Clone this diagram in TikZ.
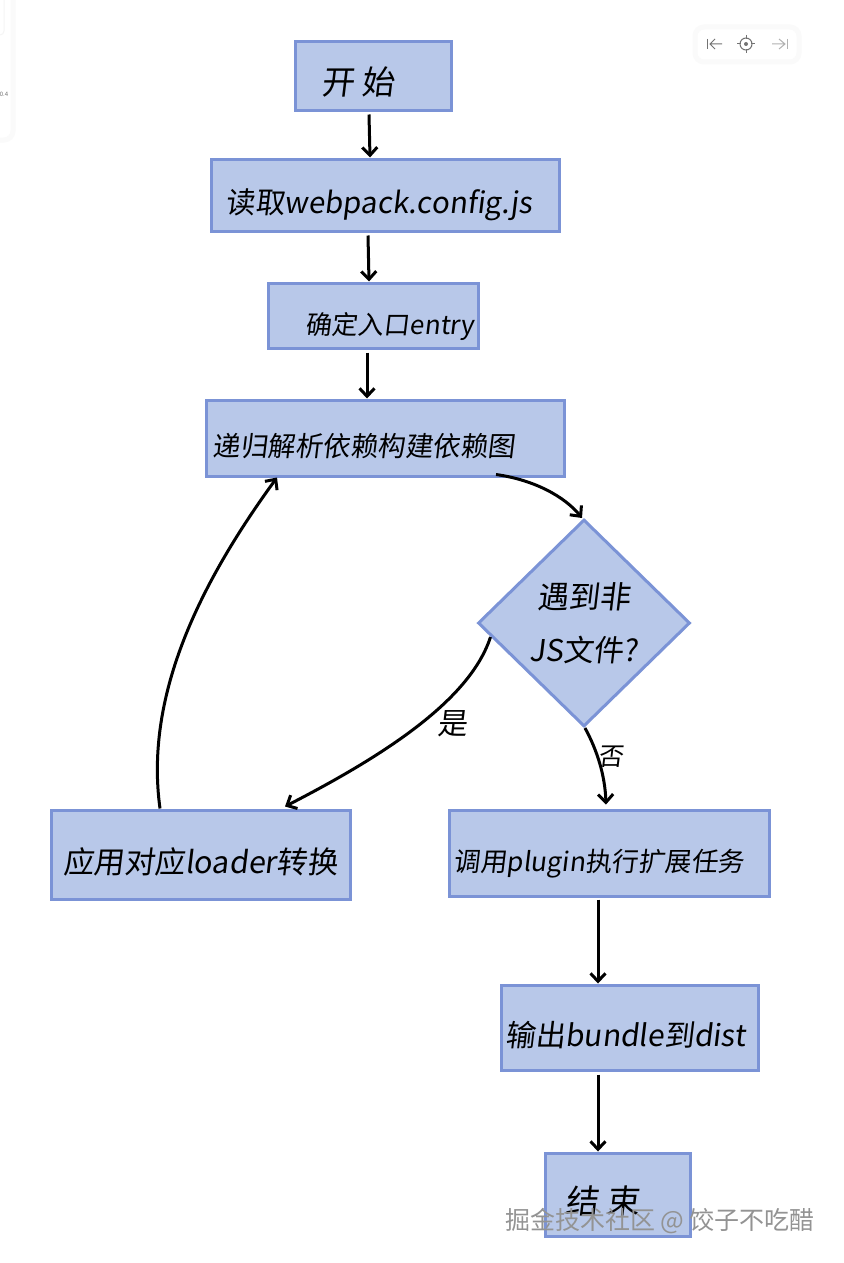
\documentclass[tikz,border=0pt]{standalone}
\usepackage{fontspec}
\setmainfont{Noto Sans CJK SC}[FakeSlant=0.12]
\newfontfamily\markfont{Noto Sans CJK SC}
\usetikzlibrary{arrows.meta,shapes.geometric}
\definecolor{boxfill}{HTML}{B8C8E9}
\definecolor{boxline}{HTML}{7B93D6}
\newcommand{\hw}[1]{\fontsize{#1}{#1}\selectfont}
\tikzset{
  basebox/.style={draw=boxline,fill=boxfill,line width=3pt,inner sep=0pt},
  procbox/.style={basebox,text height=37pt,text depth=0pt},
  decbox/.style={basebox,diamond,aspect=1,align=center},
  flow/.style={-{Straight Barb[length=8pt,width=15pt]},line width=3pt,black},
  panel/.style={draw=gray!4,line width=5pt,fill=white,rounded corners=9pt},
  icon/.style={line width=1pt,gray!90!black},
}
\begin{document}
\begin{tikzpicture}[x=1pt,y=-1pt]
\useasboundingbox (0,0) rectangle (843,1263);
\fill[white] (0,0) rectangle (843,1263);
\path[panel] (-20,-20) rectangle (13,140);
\draw[gray!8,line width=1pt,rounded corners=4pt] (-10,-10) rectangle (4,35);
\node[font=\fontsize{6}{6}\selectfont\markfont,text=gray!90!black,inner sep=0pt] (ver) at (4,94) {0.4};
\path[panel] (695,27) rectangle (799,62);
\draw[icon] (707,39) -- (707,49);
\draw[icon] (715,39) -- (710,44) -- (715,49) (710,44) -- (722,44);
\draw[icon] (746,44) circle (6);
\fill[gray!90!black] (746,44) circle (2);
\draw[icon] (746,35) -- (746,39) (746,49) -- (746,53) (737,44) -- (741,44) (751,44) -- (755,44);
\draw[icon,gray!60] (787,39) -- (787,49);
\draw[icon,gray!60] (779,39) -- (785,44) -- (779,49) (785,44) -- (772,44);
\node[procbox,minimum width=156pt,minimum height=68pt] (start) at (373,76) {\hw{33}\hspace*{-30pt}开\hspace{8pt}始};
\node[procbox,minimum width=348pt,minimum height=72pt] (read) at (385,195) {\hw{29.5}\hspace*{-12pt}读取webpack.config.js};
\node[procbox,minimum width=210pt,minimum height=65pt] (entry) at (373,315.5) {\hw{26}\hspace*{34pt}确定入口entry};
\node[procbox,minimum width=358pt,minimum height=76pt] (parse) at (385,438) {\hw{27.5}\hspace*{-42pt}递归解析依赖构建依赖图};
\node[decbox,minimum width=212pt,minimum height=207pt] (cond) at (584,623) {\hw{31}遇到非\\[24pt]\hw{30}JS文件?};
\node[procbox,minimum width=299pt,minimum height=89pt] (loader) at (200.5,854.5) {\hw{30.5}应用对应loader转换};
\node[procbox,minimum width=320pt,minimum height=86pt] (plugin) at (609,853) {\hw{26.5}\hspace*{-20pt}调用plugin执行扩展任务};
\node[procbox,minimum width=257pt,minimum height=85pt] (bundle) at (629.5,1027.5) {\hw{30}\hspace*{-8pt}输出bundle到dist};
\node[procbox,minimum width=145pt,minimum height=83pt] (stop) at (617.5,1194.5) {\hw{33}\hspace*{-30pt}结\hspace{8pt}束};
\draw[flow] ([shift={(-4,3)}]start.south) -- ([shift={(-3,0)}]read.north -| start.south);
\draw[flow] ([shift={(-17,3)}]read.south) -- ([shift={(-4,0)}]entry.north);
\draw[flow] ([shift={(-6,3)}]entry.south) -- ([shift={(-6,0)}]entry.south |- parse.north);
\draw[flow] ([shift={(111,-3)}]parse.south) .. controls (535,480) and (565,497) .. ([shift={(-2,0)}]cond.north);
\draw[flow] ([shift={(14,14)}]cond.west) .. controls (470,700) and (385,755) .. ([shift={(84.5,-2)}]loader.north);
\draw[flow] ([shift={(-40.5,0)}]loader.north) .. controls (145,700) and (195,590) .. ([shift={(-108,0)}]parse.south);
\draw[flow] ([shift={(1,0)}]cond.south) .. controls (597,750) and (605,775) .. ([shift={(-3,-4)}]plugin.north);
\draw[flow] ([shift={(-11,2)}]plugin.south) -- ([shift={(-31.5,0)}]bundle.north);
\draw[flow] ([shift={(-31.5,3)}]bundle.south) -- ([shift={(-19.5,0)}]stop.north);
\node[font=\hw{30},inner sep=0pt] (yes) at (452,724) {是};
\node[font=\hw{25},inner sep=0pt] (no) at (611,757) {否};
\node[font=\fontsize{25}{25}\selectfont\markfont,text=gray!85,inner sep=0pt] (mark) at (660,1221) {掘金技术社区 @ 饺子不吃醋};
\end{tikzpicture}
\end{document}
